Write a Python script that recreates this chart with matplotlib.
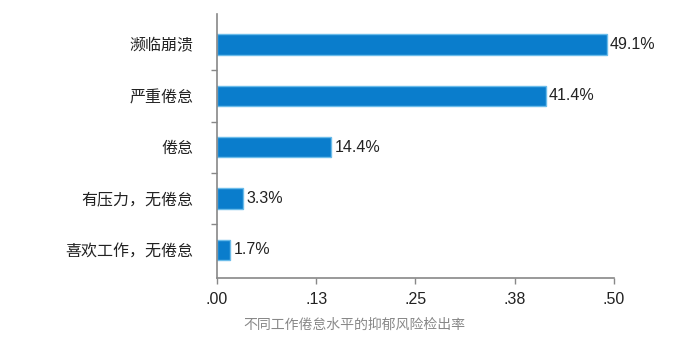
import matplotlib.pyplot as plt
import numpy as np

plt.rcParams['font.family'] = ['Liberation Sans', 'Noto Sans CJK SC']

categories = ["濒临崩溃", "严重倦怠", "倦怠", "有压力，无倦怠", "喜欢工作，无倦怠"]
values = [0.491, 0.414, 0.144, 0.033, 0.017]
value_labels = ["49.1%", "41.4%", "14.4%", "3.3%", "1.7%"]
xticks = [0, 0.125, 0.25, 0.375, 0.5]
xtick_labels = [".00", ".13", ".25", ".38", ".50"]
caption = "不同工作倦怠水平的抑郁风险检出率"


def main():
    fig = plt.figure(figsize=(7, 3.45), dpi=100)
    ax = fig.add_axes([0.31, 0.194, 0.567, 0.766])

    y = np.arange(len(categories))
    ax.barh(y, values, height=0.4, color="#0a7dcc", edgecolor="#6bbcea", linewidth=1.0)
    for yi, v, lab in zip(y, values, value_labels):
        ax.text(v + 0.004, yi, lab, va="center", ha="left", fontsize=11.5, color="#222222")

    ax.set_xlim(0, 0.5)
    ax.set_ylim(4.55, -0.6)
    ax.set_yticks(y)
    ax.set_yticklabels(categories, fontsize=11.5, color="#222222")
    ax.tick_params(axis="y", which="major", length=0, pad=17)
    ax.set_yticks([0.5, 1.5, 2.5, 3.5], minor=True)
    ax.tick_params(axis="y", which="minor", length=4, color="#888888", width=1)

    ax.set_xticks(xticks)
    ax.set_xticklabels(xtick_labels, fontsize=11.5, color="#222222")
    ax.tick_params(axis="x", length=4, color="#888888", width=1, pad=6)

    for side in ["top", "right"]:
        ax.spines[side].set_visible(False)
    for side in ["left", "bottom"]:
        ax.spines[side].set_color("#888888")
        ax.spines[side].set_linewidth(1.2)

    fig.text(0.347, 0.058, caption, fontsize=10, color="#888888", ha="left", va="center")

    fig.savefig("out.png", dpi=100)


if __name__ == "__main__":
    main()
